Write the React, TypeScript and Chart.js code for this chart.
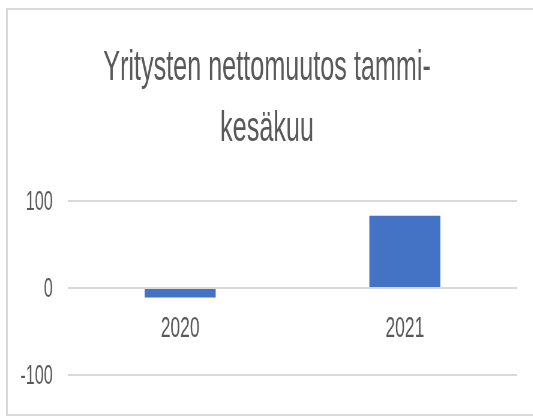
import React, { useEffect, useRef } from 'react';
import { Chart, registerables } from 'chart.js';

Chart.register(...registerables);

const titleLines = ['Yritysten nettomuutos tammi-', 'kesäkuu'];
const categories = ['2020', '2021'];
const values = [-11, 83];
const yMin = -100;
const yMax = 100;
const yStep = 100;

const SQUEEZE = 0.6;
const W = 533;
const H = 416;
const CW = Math.round(W / SQUEEZE);
const FONT = "'Liberation Sans', Arial, sans-serif";
const TEXT = '#595959';
const GRID = '#d9d9d9';

export default function App() {
  const ref = useRef<HTMLCanvasElement>(null);

  useEffect(() => {
    const chart = new Chart(ref.current as HTMLCanvasElement, {
      type: 'bar',
      data: {
        labels: categories,
        datasets: [
          {
            data: values,
            backgroundColor: '#4472c4',
            barPercentage: 0.316,
            categoryPercentage: 1,
          },
        ],
      },
      options: {
        animation: false,
        responsive: false,
        devicePixelRatio: 1,
        layout: { padding: { left: 28, right: 26, top: 0, bottom: 39 } },
        plugins: {
          legend: { display: false },
          tooltip: { enabled: false },
          title: {
            display: true,
            text: titleLines,
            color: TEXT,
            font: { family: FONT, size: 42, weight: 'normal', lineHeight: 61 / 42 },
            padding: { top: 38, bottom: 41 },
          },
        },
        scales: {
          x: {
            position: { y: 0 } as any,
            grid: { display: false, drawTicks: false },
            border: { display: false },
            ticks: { color: TEXT, font: { family: FONT, size: 29 }, padding: 24 },
          },
          y: {
            min: yMin,
            max: yMax,
            afterFit: (scale: any) => {
              scale.width = 85;
            },
            ticks: {
              stepSize: yStep,
              color: TEXT,
              font: { family: FONT, size: 27 },
              padding: 25,
              labelOffset: 2,
            },
            grid: { color: GRID, lineWidth: 2, drawTicks: false },
            border: { display: false },
          },
        },
      },
    });
    return () => chart.destroy();
  }, []);

  return (
    <div
      style={{
        position: 'absolute',
        left: 0,
        top: 0,
        width: W,
        height: H,
        overflow: 'hidden',
        background: '#fff',
      }}
    >
      <div
        style={{
          position: 'absolute',
          left: 6,
          top: 8,
          width: 600,
          height: 408,
          boxSizing: 'border-box',
          border: `2px solid ${GRID}`,
        }}
      />
      <div
        style={{
          position: 'absolute',
          left: 0,
          top: 0,
          width: CW,
          height: H,
          transform: `scaleX(${SQUEEZE})`,
          transformOrigin: '0 0',
        }}
      >
        <canvas ref={ref} width={CW} height={H} style={{ display: 'block' }} />
      </div>
    </div>
  );
}
